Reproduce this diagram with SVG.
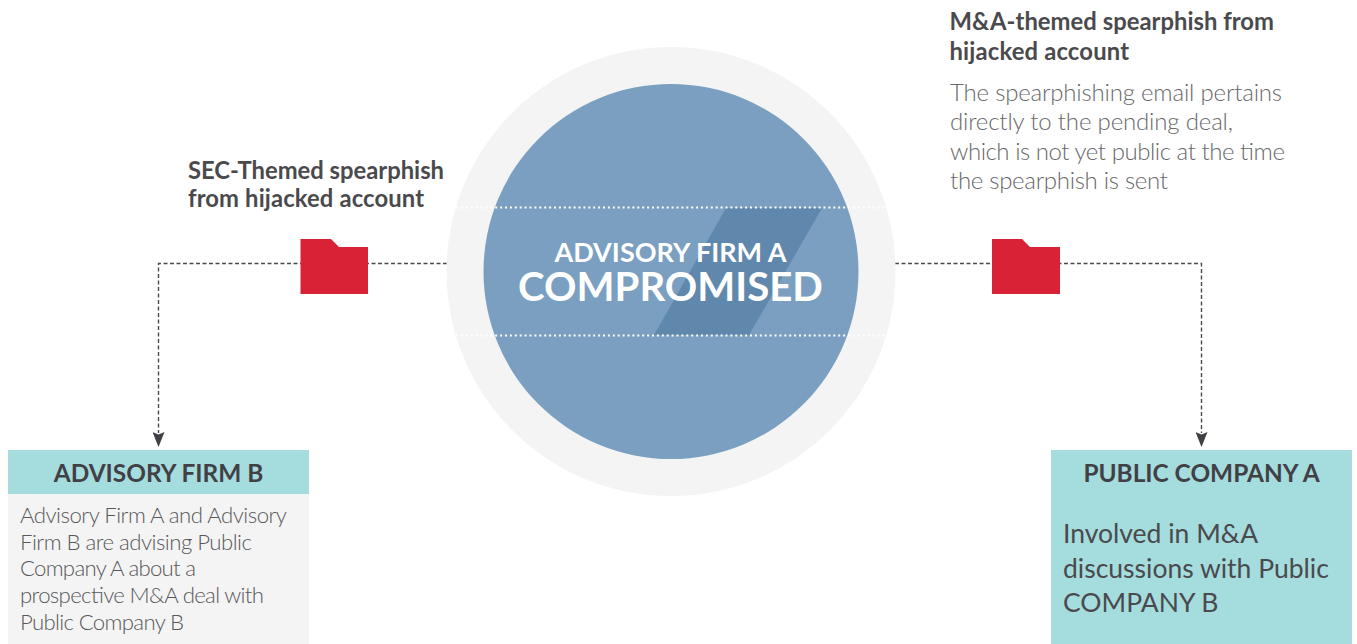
<svg xmlns="http://www.w3.org/2000/svg" width="1357" height="644" viewBox="0 0 1357 644">
<style>
text{font-family:Lato,"Liberation Sans",sans-serif}
.h{font-weight:700;font-size:23.8px;fill:#4a4a4d}
.b{font-weight:300;font-size:22.2px;fill:#58585a}
.bg{font-weight:300;font-size:24px;fill:#68686a}
.t{font-weight:700;font-size:24.4px;fill:#414145;text-anchor:middle}
.i{font-size:26.5px;fill:#4a4a4d}
.c{fill:none;stroke:#4a4a4d;stroke-width:1.4;stroke-dasharray:4 2.5;marker-end:url(#a)}
.f{fill:#d92236}
.d{stroke:#fff;stroke-width:2;stroke-dasharray:2 2.9;fill:none}
</style>
<defs><marker id="a" markerUnits="userSpaceOnUse" markerWidth="15" markerHeight="12" refX="1" refY="6" orient="auto" viewBox="0 0 15 12"><path d="M0 0L2.500 6L0 12L15 6Z" fill="#414145"/></marker></defs>
<g id="connectors">
<path class="c" d="M447 263.500H158.500V433"/>
<path class="c" d="M895 263.500H1201.500V433"/>
</g>
<g id="firm-a">
<circle cx="671" cy="271.500" r="224.500" fill="#f4f4f4"/>
<circle cx="671" cy="271.500" r="187.500" fill="#7a9fc1"/>
<path d="M726 208H822L749 335H654Z" fill="#5f88ac"/>
<path class="d" d="M456 207.500H886M456 335.500H886"/>
<text x="670.500" y="262" text-anchor="middle" font-weight="700" font-size="27" fill="#fff">ADVISORY FIRM A</text>
<text x="670.500" y="301" text-anchor="middle" font-weight="700" font-size="40.200" fill="#fff">COMPROMISED</text>
</g>
<g id="folder-left"><path class="f" d="M300.500 239H331L339 247H368V294H300.500Z"/></g>
<g id="folder-right"><path class="f" d="M992 239H1022L1030 247H1060V294H992Z"/></g>
<g id="label-left">
<text class="h" x="188" y="179" textLength="256">SEC-Themed spearphish</text>
<text class="h" x="188" y="207" textLength="236">from hijacked account</text>
</g>
<g id="label-right">
<text class="h" x="949.500" y="30" textLength="324.500">M&amp;A-themed spearphish from</text>
<text class="h" x="949.500" y="60" textLength="179.500">hijacked account</text>
<text class="bg" x="950" y="101" textLength="332">The spearphishing email pertains</text>
<text class="bg" x="950" y="130" textLength="283">directly to the pending deal,</text>
<text class="bg" x="950" y="160" textLength="335">which is not yet public at the time</text>
<text class="bg" x="950" y="189" textLength="218">the spearphish is sent</text>
</g>
<g id="firm-b">
<rect x="8" y="450" width="301" height="44" fill="#a5dcde"/>
<rect x="8" y="494" width="301" height="150" fill="#f4f4f4"/>
<text class="t" x="158.500" y="482">ADVISORY FIRM B</text>
<text class="b" x="20" y="523" textLength="267">Advisory Firm A and Advisory</text>
<text class="b" x="20" y="550" textLength="232">Firm B are advising Public</text>
<text class="b" x="20" y="576" textLength="176">Company A about a</text>
<text class="b" x="20" y="603" textLength="244">prospective M&amp;A deal with</text>
<text class="b" x="20" y="630" textLength="164">Public Company B</text>
</g>
<g id="company-a">
<rect x="1051" y="450" width="301" height="194" fill="#a5dcde"/>
<text class="t" x="1201.500" y="482">PUBLIC COMPANY A</text>
<text class="i" x="1063" y="543">Involved in M&amp;A</text>
<text class="i" x="1063" y="577.500">discussions with Public</text>
<text class="i" x="1063" y="611.500">COMPANY B</text>
</g>
</svg>
